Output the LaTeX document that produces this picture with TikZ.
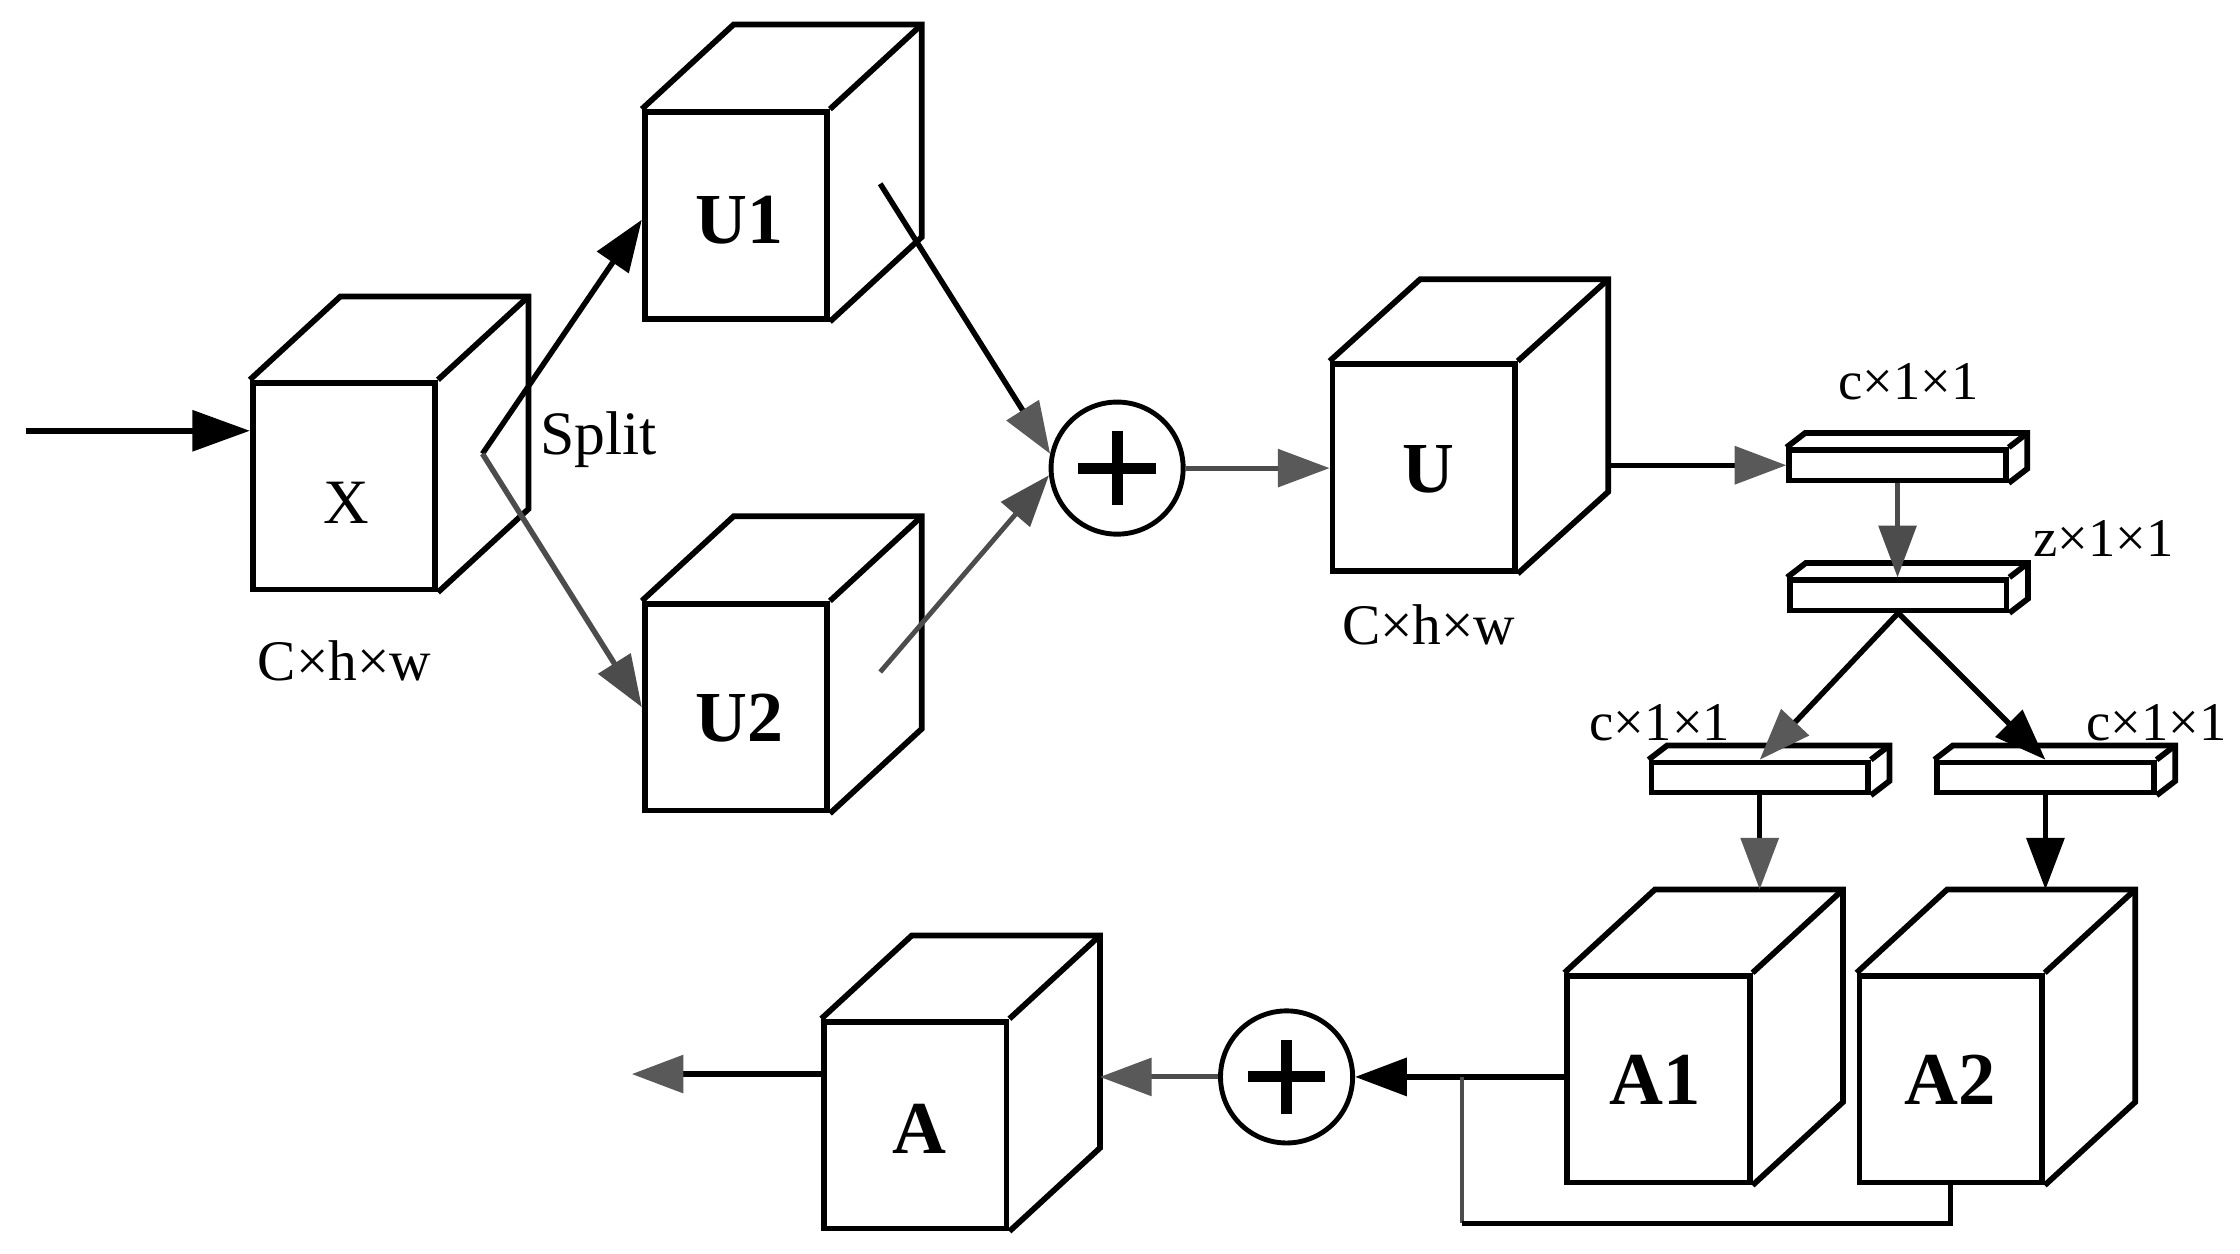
\documentclass[tikz,border=0pt]{standalone}
\usepackage{fontspec}
\setmainfont{Liberation Serif}
\usetikzlibrary{arrows.meta,calc}
\tikzset{
 face/.style={draw, line width=2pt, minimum width=63.5pt, minimum height=72pt, inner sep=0pt, line join=miter},
 barface/.style={draw, line width=1.9pt, minimum width=75.5pt, minimum height=10.5pt, inner sep=0pt, line join=miter},
 edgeline/.style={line width=2pt, line join=miter},
 rfont/.style={font=\fontsize{22}{26}\selectfont, inner sep=0pt},
 bfont/.style={font=\fontsize{25}{30}\selectfont\bfseries, inner sep=0pt},
 afont/.style={font=\fontsize{26}{30}\selectfont\bfseries, inner sep=0pt},
 lbl/.style={font=\fontsize{20}{24}\selectfont, inner sep=0pt},
 slbl/.style={font=\fontsize{19}{22}\selectfont, inner sep=0pt},
 ln/.style={line width=1.9pt, draw=black},
 gln/.style={line width=1.7pt, draw=black!70},
 hd/.style={-{Triangle[length=18pt,width=13pt]}},
 ghd/.style={-{Triangle[length=18pt,width=13pt,color=black!65]}},
 bighd/.style={-{Triangle[length=20pt,width=14pt]}},
 pluscirc/.style={circle, draw, line width=1.7pt, minimum size=46pt, inner sep=0pt},
 plusbar/.style={line width=3.8pt},
}
\newcommand\mkbox[6]{%
 \node[#4] (#1) at (#2) {#3};
 \coordinate (#1-bt) at ($(#1.north west)+(#5,#6)$);
 \coordinate (#1-br) at ($(#1.north east)+(#5,#6)$);
 \coordinate (#1-bb) at ($(#1.south east)+(#5,#6)$);
 \draw[edgeline] (#1.north west) -- (#1-bt) -- (#1-br) -- (#1-bb) -- (#1.south east);
 \draw[edgeline] (#1.north east) -- (#1-br);
}
\newcommand\mkplus[2]{%
 \node[pluscirc] (#1) at (#2) {};
 \draw[plusbar] ($(#1)+(-27,0)$) -- ($(#1)+(27,0)$);
 \draw[plusbar] ($(#1)+(0,-26)$) -- ($(#1)+(0,26)$);
}
\begin{document}
\begin{tikzpicture}[x=0.5pt,y=-0.5pt]
\useasboundingbox (0,0) rectangle (1560,873);
% cubes
\mkbox{X}{239.5,338.5}{}{face}{63}{-58}
\mkbox{U1}{512.5,150}{}{face}{64}{-59}
\mkbox{U2}{512.5,492.5}{}{face}{64}{-59}
\mkbox{U}{991.5,325.5}{}{face}{63}{-57}
\mkbox{A}{637.5,783.5}{}{face}{63}{-58}
\mkbox{A1}{1155,751.5}{}{face}{63}{-58}
\mkbox{A2}{1358.5,751.5}{}{face}{63}{-58}
\node[rfont] (tX) at (241,350) {X};
\node[bfont] (tU1) at (515,153) {U1};
\node[bfont] (tU2) at (515,500) {U2};
\node[bfont] (tU) at (995,327) {U};
\node[afont] (tA) at (640,786) {A};
\node[afont] (tA1) at (1153,752) {A1};
\node[afont] (tA2) at (1358,752) {A2};
% bars
\mkbox{cb1}{1321.5,324}{}{barface}{13}{-10}
\mkbox{zb}{1322,414.5}{}{barface}{13}{-10}
\mkbox{cbL}{1225.5,541.5}{}{barface}{13}{-10}
\mkbox{cbR}{1424.5,541.5}{}{barface}{13}{-10}
% adders
\mkplus{P1}{778,326}
\mkplus{P2}{896,750}
% labels
\node[lbl] (lx) at (240,460) {C×h×w};
\node[lbl] (lu) at (995,435) {C×h×w};
\node[lbl, font=\fontsize{21.5}{24}\selectfont] (lsp) at (417,306) {Split};
\node[slbl] (lc1) at (1329,266) {c×1×1};
\node[slbl] (lz) at (1465,375) {z×1×1};
\node[slbl] (lcl) at (1156,503) {c×1×1};
\node[slbl] (lcr) at (1502,503) {c×1×1};
% connectors
\coordinate (in) at (18,300);
\draw[ln,bighd] (in) -- (in -| X.west);
\coordinate (sp) at (336,316);
\draw[ln,hd] (sp) -- ($(U1.west)+(0,3)$);
\draw[gln,line width=1.9pt,hd] (sp) -- (U2.west);
\coordinate (u1s) at (613,128);
\draw[ln,ghd] (u1s) -- (P1.168);
\coordinate (u2s) at (613,468);
\draw[gln,hd] (u2s) -- (P1.186);
\draw[gln,ghd] (P1.east) -- (U.west |- P1.east);
\coordinate (uo) at ($(U.east)+(63,-1.5)$);
\draw[ln,ghd] (uo) -- (uo -| cb1.west);
\draw[gln,hd] (cb1.south) -- (cb1.south |- zb.north);
\draw[ln,ghd] (zb.south) -- (cbL.north);
\draw[ln,hd] (zb.south) -- (cbR.north);
\draw[ln,ghd] (cbL.south) -- (cbL.south |- A1-bt);
\draw[ln,hd] (cbR.south) -- (cbR.south |- A2-bt);
\draw[ln,hd] (A1.west |- P2.east) -- (P2.east);
\draw[gln,ghd] (P2.west) -- (P2.west -| A-br);
\coordinate (out) at (440,748);
\draw[ln,ghd] (out -| A.west) -- (out);
\coordinate (br) at (1018,750);
\coordinate (bot) at (1018,852);
\draw[gln,line width=1.3pt] (br) -- (bot);
\draw[ln] (bot) -| (A2.south);
\end{tikzpicture}
\end{document}
